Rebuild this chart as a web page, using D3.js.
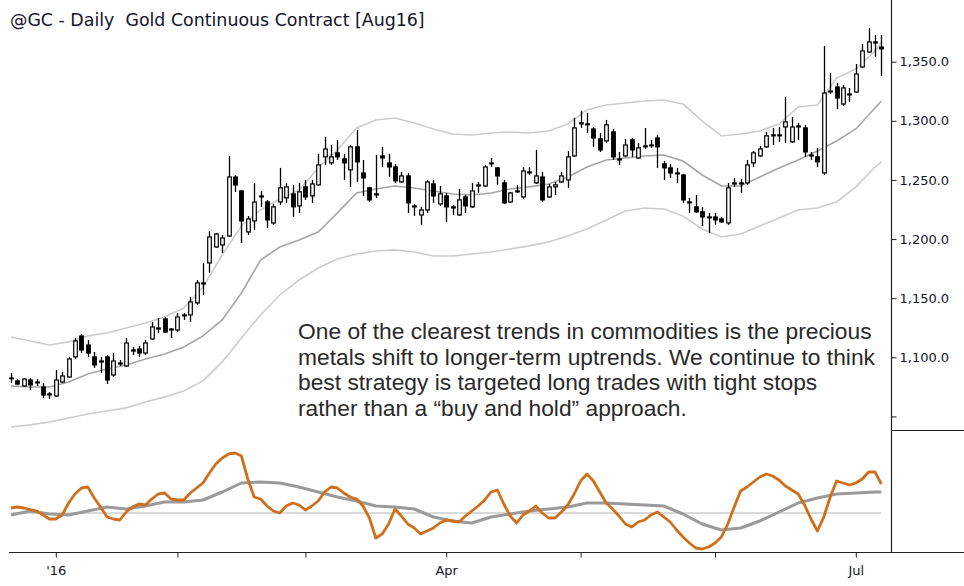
<!DOCTYPE html>
<html><head><meta charset="utf-8">
<script src="https://cdn.jsdelivr.net/npm/d3@7"></script>
<style>
html,body{margin:0;padding:0;background:#fff;}
svg{display:block;}
</style></head>
<body>
<svg id="chart" width="964" height="586"></svg>
<script>
// ---------------- DATA ----------------
const title = "@GC - Daily  Gold Continuous Contract [Aug16]";
const note = [
  "One of the clearest trends in commodities is the precious",
  "metals shift to longer-term uptrends. We continue to think",
  "best strategy is targeted long trades with tight stops",
  "rather than a \u201cbuy and hold\u201d approach."
];
// month ticks (bar index of first trading day) and labels
const monthIdx = [7, 26, 46, 68, 89, 110, 132];
const monthLabels = ["'16", "", "", "Apr", "", "", "Jul"];
const priceTicks = [1050, 1100, 1150, 1200, 1250, 1300, 1350];

const open = [1082.5,1080.0,1075.7,1080.8,1079.1,1074.9,1069.0,1067.3,1079.1,1083.3,1100.3,1118.0,1110.4,1100.3,1096.9,1100.3,1085.0,1094.3,1092.6,1106.2,1107.0,1103.6,1115.5,1124.8,1132.4,1123.9,1123.1,1135.0,1135.8,1146.0,1162.0,1179.8,1193.3,1195.0,1202.6,1252.5,1240.7,1206.0,1215.3,1235.6,1231.4,1213.6,1231.4,1234.8,1238.2,1228.0,1244.1,1236.5,1245.8,1269.5,1264.4,1272.9,1267.8,1258.5,1278.0,1255.9,1243.3,1238.2,1270.3,1264.4,1261.0,1248.3,1253.4,1228.0,1220.4,1224.6,1246.6,1229.7,1236.5,1227.2,1220.4,1235.6,1227.2,1244.9,1244.9,1263.6,1260.2,1247.5,1231.4,1239.9,1235.6,1255.9,1247.5,1252.5,1235.6,1244.1,1248.3,1250.0,1270.3,1297.4,1297.4,1293.1,1284.7,1283.0,1290.6,1267.8,1270.3,1283.9,1268.6,1278.8,1278.8,1285.5,1263.6,1260.2,1255.9,1254.2,1231.4,1227.2,1223.0,1218.7,1218.7,1217.0,1213.6,1246.6,1247.5,1247.5,1264.4,1270.3,1278.0,1287.3,1288.1,1294.8,1282.2,1295.7,1294.0,1271.1,1269.5,1255.9,1325.2,1328.6,1314.2,1321.9,1324.4,1345.5,1358.2,1366.7,1362.4];
const high = [1086.7,1081.6,1082.5,1082.5,1081.6,1078.3,1070.6,1089.3,1087.6,1100.3,1116.3,1119.7,1114.6,1104.5,1100.3,1102.0,1103.6,1097.7,1116.3,1108.7,1109.6,1114.6,1129.9,1133.3,1134.1,1124.8,1137.5,1137.5,1151.1,1165.4,1179.8,1206.8,1205.2,1203.5,1270.3,1254.2,1241.5,1219.5,1247.4,1240.7,1233.1,1229.7,1260.2,1247.5,1245.8,1247.5,1250.0,1250.0,1272.0,1286.4,1279.6,1283.9,1272.0,1279.6,1292.3,1266.9,1244.1,1271.1,1278.0,1272.0,1263.6,1256.8,1256.0,1229.7,1227.2,1250.0,1250.0,1244.9,1239.0,1228.9,1242.4,1237.3,1247.5,1248.3,1262.7,1268.6,1261.0,1250.0,1239.9,1245.8,1261.0,1261.0,1275.4,1256.8,1246.6,1248.3,1256.8,1274.5,1302.5,1308.4,1306.7,1294.8,1289.8,1300.8,1293.1,1273.7,1284.7,1285.5,1281.3,1294.0,1283.9,1288.1,1266.1,1263.6,1260.2,1255.1,1234.8,1237.3,1227.2,1222.1,1222.1,1218.7,1247.5,1251.7,1250.8,1266.9,1274.5,1278.8,1290.6,1294.0,1294.8,1320.2,1303.3,1298.3,1296.6,1273.7,1277.1,1363.3,1340.5,1332.0,1330.3,1327.8,1348.1,1365.0,1378.5,1372.6,1372.6];
const low = [1078.3,1076.6,1074.9,1072.3,1075.7,1065.6,1064.7,1066.4,1078.3,1082.5,1098.6,1103.6,1100.3,1091.0,1086.7,1077.4,1083.3,1092.6,1091.8,1102.0,1100.3,1102.0,1114.6,1120.5,1120.5,1116.3,1121.4,1131.6,1129.9,1144.3,1152.7,1171.3,1192.5,1188.2,1201.8,1239.8,1196.7,1203.5,1207.8,1227.2,1209.4,1212.0,1228.9,1230.6,1218.7,1222.1,1233.1,1230.6,1244.9,1262.7,1262.7,1266.9,1250.0,1244.1,1248.3,1236.5,1231.4,1234.8,1261.0,1252.5,1247.5,1247.5,1222.1,1219.6,1212.0,1222.1,1230.6,1228.0,1214.5,1220.4,1219.6,1222.1,1226.3,1239.0,1244.1,1261.0,1245.8,1229.7,1230.6,1239.0,1233.9,1254.2,1246.6,1231.4,1234.8,1237.3,1247.5,1243.3,1269.5,1294.0,1289.8,1278.0,1273.7,1281.3,1266.9,1262.7,1269.5,1269.5,1267.8,1276.2,1277.1,1260.2,1250.0,1251.7,1247.5,1230.6,1222.1,1222.1,1211.1,1205.2,1212.0,1213.6,1212.0,1244.1,1239.0,1245.8,1261.0,1269.5,1277.1,1279.6,1282.2,1281.3,1281.3,1283.9,1269.5,1266.9,1261.0,1254.2,1322.7,1310.0,1312.5,1315.9,1323.5,1344.7,1357.4,1354.0,1337.9];
const close = [1082.0,1077.4,1081.6,1076.6,1078.3,1068.1,1068.1,1080.8,1084.2,1098.6,1113.8,1106.2,1103.6,1093.5,1096.0,1080.8,1096.9,1095.2,1112.1,1105.3,1103.6,1112.1,1125.6,1123.9,1121.4,1123.1,1134.1,1135.8,1146.8,1162.9,1162.9,1201.8,1204.3,1200.9,1252.5,1245.7,1215.3,1217.0,1231.3,1236.5,1216.2,1227.2,1243.3,1244.1,1227.2,1239.9,1235.6,1246.6,1262.7,1276.2,1269.5,1269.5,1264.4,1278.0,1265.3,1251.7,1233.1,1237.3,1268.6,1261.0,1249.2,1253.4,1230.6,1227.2,1224.6,1248.3,1236.5,1238.2,1227.2,1226.3,1233.1,1228.0,1240.7,1245.8,1261.0,1264.4,1253.4,1230.6,1239.0,1240.7,1257.6,1256.8,1253.4,1233.1,1244.1,1245.8,1253.4,1269.5,1294.0,1298.3,1296.6,1285.5,1275.4,1296.6,1269.5,1266.9,1279.6,1275.4,1277.1,1278.0,1279.6,1278.0,1260.2,1255.9,1255.1,1233.1,1230.6,1223.0,1218.7,1217.9,1216.2,1214.5,1243.3,1247.5,1246.6,1262.7,1272.9,1276.2,1287.3,1288.1,1287.3,1299.1,1294.8,1294.8,1273.7,1270.3,1265.3,1323.5,1324.4,1319.3,1327.8,1322.7,1339.6,1359.1,1366.7,1365.8,1360.8];

// channel lines, read at every third bar
const bandIdx = [0,3,6,9,12,15,18,21,24,27,30,33,36,39,42,45,48,51,54,57,60,63,66,69,72,75,78,81,84,87,90,93,96,99,102,105,108,111,114,117,120,123,126,129,132,135,136];
const upperBand = [1117.2,1113.8,1110.4,1113.0,1118.1,1120.6,1124.8,1129.0,1134.1,1141.7,1159.5,1186.5,1211.1,1224.6,1233.9,1241.5,1260.1,1275.3,1294.0,1300.7,1302.4,1298.2,1293.1,1288.9,1288.0,1289.7,1290.6,1289.7,1291.4,1297.3,1309.2,1313.4,1315.1,1316.8,1317.6,1314.2,1299.9,1287.2,1288.9,1291.4,1297.3,1311.7,1313.4,1336.2,1343.8,1359.1,1366.7];
const midLine = [1075.8,1074.9,1074.9,1079.1,1085.9,1090.1,1093.5,1098.6,1102.8,1108.7,1118.1,1131.6,1154.4,1182.3,1193.3,1199.2,1206.0,1222.1,1239.0,1242.4,1244.9,1243.2,1240.7,1238.1,1237.3,1239.0,1242.4,1244.1,1246.6,1252.5,1261.0,1266.9,1268.6,1270.3,1271.1,1266.0,1254.2,1244.9,1244.9,1252.5,1260.1,1266.9,1274.5,1282.9,1293.1,1310.9,1316.8];
const lowerBand = [1041.1,1042.8,1045.3,1048.7,1052.1,1054.6,1057.2,1062.2,1066.5,1071.5,1080.0,1096.1,1116.4,1135.8,1152.7,1165.4,1175.5,1183.2,1187.4,1189.9,1190.8,1189.1,1185.7,1185.7,1187.4,1189.1,1191.6,1194.2,1197.5,1202.6,1208.5,1216.1,1223.8,1226.3,1225.4,1219.5,1208.5,1201.8,1204.3,1211.1,1217.8,1224.6,1226.3,1231.4,1244.1,1260.9,1265.2];

// lower panel oscillator (every bar) and its signal (every third bar)
const oscillator = [5,6,5,3.5,2,-2,-6,-6,-2,10,19,25,26,15,6,-4,-6,-7,1,6,9,8,14,19,20,14,13,13,20,25,30,40,49,55,59,60,57,34,16,14,7,2,0,7,10,8,3,7,12,21,26,25,20,16,14,7,-5,-25,-21,-11,4,-3,-11,-15,-21,-18,-15,-10,-7,-8,-9,-3,2,7,13,21,23,9,-3,-10,-2,2,7,0,-5,-5,1,8,19,32,39,32,21,10,4,-3,-11,-14,-9,-7,-2,1,-4,-9,-17,-24,-30,-35,-36,-34,-30,-24,-11,6,22,26,31,36,39,37,33,27,23,19,8,-6,-18,-4,16,32,30,28,30,34,41,41,29];
const signal = [-2,2,-1,-2,2,6,4,7,11,11,13,21,30,31,30,26,21,16,12,7,6,4,-4,-8,-10,-4,-1,2,4,6,10,10,9,8,7,-1,-11,-17,-15,-8,1,10,15,19,20,21,21];

// ---------------- CHART ----------------
const svg = d3.select("#chart");
const FONT = "'DejaVu Sans', Verdana, sans-serif";
const axisX = 891, sepY = 430, botY = 552;

const x = d3.scaleLinear().domain([0, 136]).range([11, 881.4]);
const y = d3.scaleLinear().domain([1050, 1350]).range([416.4, 61.7]);
const yi = d3.scaleLinear().domain([-39, 81]).range([botY, 432]);

// title
const t = svg.append("text").attr("x", 10).attr("y", 26)
  .style("white-space", "pre")
  .attr("font-family", FONT).attr("font-size", 15).attr("fill", "#14142a").text(title);
const tw = t.node().getComputedTextLength();
t.attr("font-size", 15 * 415 / tw);

// channel lines
const bandLine = vals => d3.line().x((d, i) => x(bandIdx[i])).y(d => y(d))(vals);
svg.append("path").attr("d", bandLine(upperBand)).attr("fill", "none").attr("stroke", "#cccccc").attr("stroke-width", 1.6);
svg.append("path").attr("d", bandLine(lowerBand)).attr("fill", "none").attr("stroke", "#cccccc").attr("stroke-width", 1.6);
svg.append("path").attr("d", bandLine(midLine)).attr("fill", "none").attr("stroke", "#a6a6a6").attr("stroke-width", 1.6);

// candles
const bars = d3.range(open.length).map(i => ({i, o: open[i], h: high[i], l: low[i], c: close[i]}));
const bw = 3.6;
const g = svg.append("g");
g.selectAll("line.wick").data(bars).join("line")
  .attr("x1", d => Math.round(x(d.i)) + 0.5).attr("x2", d => Math.round(x(d.i)) + 0.5)
  .attr("y1", d => y(d.h)).attr("y2", d => y(d.l))
  .attr("stroke", "#000").attr("stroke-width", 1.3);
g.selectAll("rect.body").data(bars).join("rect")
  .attr("x", d => Math.round(x(d.i)) + 0.5 - bw / 2)
  .attr("y", d => y(Math.max(d.o, d.c)))
  .attr("width", bw)
  .attr("height", d => Math.max(0.8, Math.abs(y(d.o) - y(d.c))))
  .attr("fill", d => d.c >= d.o ? "#fff" : "#000")
  .attr("stroke", "#000").attr("stroke-width", 1.2);

// annotation
const nt = svg.append("g").attr("font-family", "'Liberation Sans', Arial, sans-serif").attr("fill", "#2a2a2a");
const first = nt.append("text").attr("x", 298).attr("y", 339).attr("font-size", 18).text(note[0]);
const fs = 18 * 574 / first.node().getComputedTextLength();
first.attr("font-size", fs);
note.slice(1).forEach((s, k) => {
  nt.append("text").attr("x", 298).attr("y", 339 + 25.5 * (k + 1)).attr("font-size", fs).text(s);
});

// lower panel
svg.append("line").attr("x1", x(0)).attr("x2", x(136)).attr("y1", yi(0)).attr("y2", yi(0))
  .attr("stroke", "#b4b4b4").attr("stroke-width", 1);
svg.append("path")
  .attr("d", d3.line().x((d, i) => x(bandIdx[i])).y(d => yi(d))(signal))
  .attr("fill", "none").attr("stroke", "#9a9a9a").attr("stroke-width", 3).attr("stroke-linejoin", "round");
svg.append("path")
  .attr("d", d3.line().x((d, i) => x(i)).y(d => yi(d))(oscillator))
  .attr("fill", "none").attr("stroke", "#cf6f1c").attr("stroke-width", 2.8).attr("stroke-linejoin", "round");

// frame lines
svg.append("line").attr("x1", axisX + 0.5).attr("x2", axisX + 0.5).attr("y1", 0).attr("y2", botY).attr("stroke", "#222").attr("stroke-width", 1.2);
svg.append("line").attr("x1", axisX).attr("x2", 964).attr("y1", sepY + 0.5).attr("y2", sepY + 0.5).attr("stroke", "#222").attr("stroke-width", 1.2);
svg.append("line").attr("x1", 9).attr("x2", 964).attr("y1", botY + 0.5).attr("y2", botY + 0.5).attr("stroke", "#222").attr("stroke-width", 1.2);

// price axis
const ya = svg.append("g").attr("transform", `translate(${axisX + 0.5},0)`)
  .call(d3.axisRight(y).tickValues(priceTicks).tickSize(5).tickPadding(3)
    .tickFormat(d => d === 1050 ? "" : d3.format(",.1f")(d)));
ya.select(".domain").remove();
ya.selectAll("line").attr("stroke", "#222");
ya.selectAll("text").attr("font-family", FONT).attr("font-size", 13).attr("fill", "#14142a");

// time axis
const xa = svg.append("g").attr("transform", `translate(0,${botY + 0.5})`)
  .call(d3.axisBottom(x).tickValues(monthIdx).tickSize(5).tickPadding(8)
    .tickFormat((d, i) => monthLabels[i]));
xa.select(".domain").remove();
xa.selectAll("line").attr("stroke", "#222");
xa.selectAll("text").attr("font-family", FONT).attr("font-size", 13).attr("fill", "#14142a");
</script>
</body></html>
